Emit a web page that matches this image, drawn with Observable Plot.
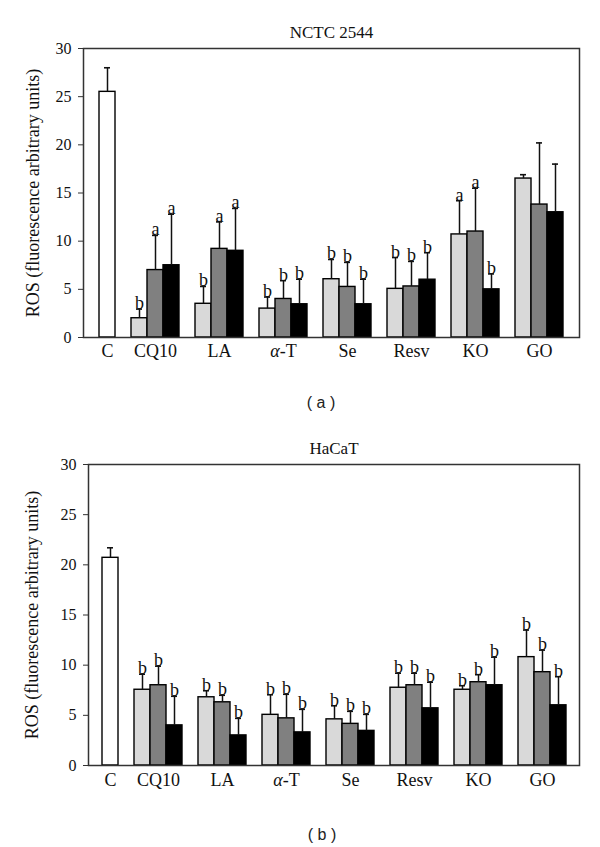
<!DOCTYPE html>
<html>
<head>
<meta charset="utf-8">
<script src="https://cdn.jsdelivr.net/npm/d3@7"></script>
<script src="https://cdn.jsdelivr.net/npm/@observablehq/plot@0.6"></script>
<style>
  html, body { margin: 0; padding: 0; background: #fff; }
  #page { position: relative; width: 600px; height: 847px; overflow: hidden; }
  .panel { position: absolute; left: 0; }
  .cap { position: absolute; font-family: "Liberation Sans", Arial, sans-serif; font-size: 16px; line-height: 20px; color: #222; transform: translateX(-50%); white-space: pre; }
</style>
</head>
<body>
<div id="page">
  <div class="panel" id="pa" style="top:0px"></div>
  <div class="cap" style="left:321px; top:393px">( a )</div>
  <div class="panel" id="pb" style="top:420px"></div>
  <div class="cap" style="left:322px; top:825px">( b )</div>
</div>
<script>
// ---------- data ----------
const categories = ["C", "CQ10", "LA", "α-T", "Se", "Resv", "KO", "GO"];
const treated = categories.slice(1);
const seriesNames = ["dose 1", "dose 2", "dose 3"];
const seriesColors = ["#d9d9d9", "#808080", "#000000"];
const yTicks = [0, 5, 10, 15, 20, 25, 30];

// Panel (a) NCTC 2544
const titleA = "NCTC 2544";
const controlA = 25.5, controlASd = 2.5;
const a1 = [2.0, 3.5, 3.0, 6.05, 5.05, 10.7, 16.5];
const a1Sd = [0.95, 1.8, 1.2, 2.05, 3.25, 3.5, 0.4];
const a2 = [7.0, 9.2, 4.0, 5.25, 5.3, 11.0, 13.8];
const a2Sd = [3.6, 2.8, 1.9, 2.55, 2.6, 4.5, 6.4];
const a3 = [7.5, 9.0, 3.45, 3.45, 6.0, 5.0, 13.0];
const a3Sd = [5.3, 4.4, 2.6, 2.6, 2.8, 1.6, 5.0];
const a1Let = ["b", "b", "b", "b", "b", "a", ""];
const a2Let = ["a", "a", "b", "b", "b", "a", ""];
const a3Let = ["a", "a", "b", "b", "b", "b", ""];

// Panel (b) HaCaT
const titleB = "HaCaT";
const controlB = 20.7, controlBSd = 1.0;
const b1 = [7.55, 6.8, 5.05, 4.6, 7.75, 7.55, 10.8];
const b1Sd = [1.55, 0.65, 2.0, 1.35, 1.45, 0.4, 2.7];
const b2 = [8.0, 6.3, 4.7, 4.15, 8.0, 8.3, 9.3];
const b2Sd = [1.9, 0.7, 2.4, 1.25, 1.2, 0.75, 2.2];
const b3 = [4.0, 3.0, 3.3, 3.45, 5.7, 8.0, 6.0];
const b3Sd = [2.9, 1.7, 2.3, 1.65, 2.6, 2.8, 2.85];
const b1Let = ["b", "b", "b", "b", "b", "b", "b"];
const b2Let = ["b", "b", "b", "b", "b", "b", "b"];
const b3Let = ["b", "b", "b", "b", "b", "b", "b"];

const yLabel = "ROS (fluorescence arbitrary units)";

// ---------- build ----------
// slot domain: C, gap, CQ10 x3, gap, LA x3, ...
const slots = ["C"];
const tickSlots = ["C"];
treated.forEach((c, i) => {
  slots.push("gap" + i);
  for (let s = 0; s < 3; s++) slots.push(c + "|" + s);
  tickSlots.push(c + "|1");
});

function rowsFor(control, controlSd, vals, sds, lets) {
  const rows = [{slot: "C", value: control, sd: controlSd, letter: "", fill: "#ffffff"}];
  treated.forEach((c, i) => {
    for (let s = 0; s < 3; s++) {
      rows.push({slot: c + "|" + s, value: vals[s][i], sd: sds[s][i], letter: lets[s][i], fill: seriesColors[s], series: seriesNames[s]});
    }
  });
  return rows;
}

const serif = '"Liberation Serif", "Times New Roman", serif';

function chart(rows, title, opt) {
  return Plot.plot({
    width: 600,
    height: opt.height,
    marginTop: opt.marginTop,
    marginBottom: opt.marginBottom,
    marginLeft: opt.marginLeft,
    marginRight: opt.marginRight,
    style: {fontFamily: serif, fontSize: "16px", background: "#fff", color: "#111"},
    x: {type: "band", domain: slots, paddingInner: 0, paddingOuter: opt.padOuter, align: 0.5},
    y: {domain: [0, 30]},
    color: {type: "identity"},
    marks: [
      Plot.barY(rows, {x: "slot", y: "value", fill: "fill", stroke: "#000", strokeWidth: 1.4}),
      Plot.ruleX(rows, {x: "slot", y1: "value", y2: d => d.value + d.sd, stroke: "#111", strokeWidth: 1.5}),
      Plot.tickY(rows, {x: "slot", y: d => d.value + d.sd, stroke: "#111", strokeWidth: 1.6, insetLeft: 5, insetRight: 5}),
      Plot.text(rows.filter(d => d.letter), {x: "slot", y: d => d.value + d.sd, text: "letter", lineAnchor: "bottom", dy: 0, fontSize: 18, fill: "#111"}),
      Plot.axisY({ticks: yTicks, tickSize: 5, tickPadding: 7, label: null, fontSize: 16, stroke: "#333"}),
      Plot.axisX({ticks: tickSlots, tickFormat: d => d.split("|")[0], tickSize: 0, tickPadding: opt.xPad, label: null, fontSize: 18}),
      Plot.frame({stroke: "#333", strokeWidth: 1.5}),
      Plot.text([title], {text: d => d, frameAnchor: "top", dy: -16, lineAnchor: "middle", textAnchor: "middle", fontSize: 17, fill: "#111"}),
      Plot.text([yLabel], {text: d => d, frameAnchor: "left", rotate: -90, dx: opt.labelDx, lineAnchor: "middle", textAnchor: "middle", fontSize: 18, fill: "#111"})
    ]
  });
}

// italicise the Greek alpha in the "α-T" tick label, as in the original figure
function italicAlpha(svg) {
  svg.querySelectorAll("text").forEach(t => {
    if (t.textContent === "α-T" && t.children.length === 0) {
      t.textContent = "";
      const a = document.createElementNS("http://www.w3.org/2000/svg", "tspan");
      a.setAttribute("font-style", "italic");
      a.textContent = "α";
      t.appendChild(a);
      t.appendChild(document.createTextNode("-T"));
    }
  });
  return svg;
}

const rowsA = rowsFor(controlA, controlASd, [a1, a2, a3], [a1Sd, a2Sd, a3Sd], [a1Let, a2Let, a3Let]);
const rowsB = rowsFor(controlB, controlBSd, [b1, b2, b3], [b1Sd, b2Sd, b3Sd], [b1Let, b2Let, b3Let]);

document.getElementById("pa").append(italicAlpha(chart(rowsA, titleA, {
  height: 380, marginTop: 48, marginBottom: 43, marginLeft: 83, marginRight: 21, padOuter: 0.79, xPad: 7, labelDx: -50
})));
document.getElementById("pb").append(italicAlpha(chart(rowsB, titleB, {
  height: 380, marginTop: 44, marginBottom: 35, marginLeft: 88, marginRight: 21, padOuter: 0.74, xPad: 8, labelDx: -56
})));
</script>
</body>
</html>
